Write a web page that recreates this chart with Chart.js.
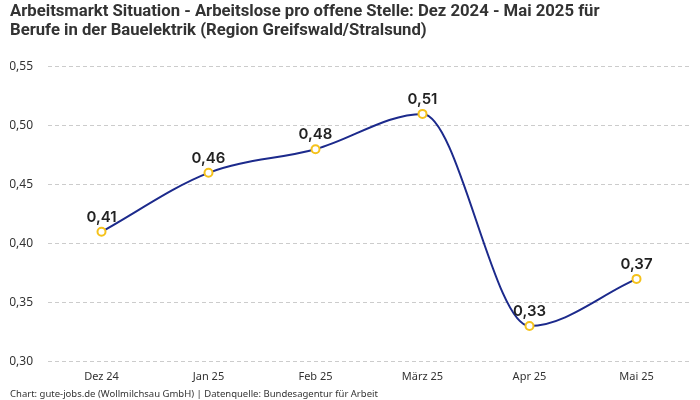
<!DOCTYPE html>
<html>
<head>
<meta charset="utf-8">
<script src="https://cdn.jsdelivr.net/npm/chart.js@4"></script>
<style>
  body { margin: 0; background: #fff; }
  #wrap { width: 700px; height: 400px; }
</style>
</head>
<body>
<div id="wrap"><canvas id="chart"></canvas></div>
<script>
// === Data ===
const months = ["Dez 24", "Jan 25", "Feb 25", "März 25", "Apr 25", "Mai 25"];
const ratio = [0.41, 0.46, 0.48, 0.51, 0.33, 0.37];
const yTicks = [0.30, 0.35, 0.40, 0.45, 0.50, 0.55];

const fmt = (v) => v.toFixed(2).replace(".", ",");

// === Value labels above points ===
const valueLabels = {
  id: "valueLabels",
  afterDatasetsDraw(chart) {
    const ctx = chart.ctx;
    const meta = chart.getDatasetMeta(0);
    ctx.save();
    ctx.font = "600 15px Inter, sans-serif";
    ctx.fillStyle = "#222";
    ctx.textAlign = "center";
    ctx.textBaseline = "alphabetic";
    meta.data.forEach((pt, i) => {
      ctx.fillText(fmt(ratio[i]), pt.x, pt.y - 10);
    });
    ctx.restore();
  },
};

new Chart(document.getElementById("chart"), {
  type: "line",
  data: {
    labels: months,
    datasets: [
      {
        data: ratio,
        borderColor: "#1c2a8c",
        borderWidth: 2,
        cubicInterpolationMode: "monotone",
        pointRadius: 4,
        pointBorderWidth: 2,
        pointBackgroundColor: "#fff",
        pointBorderColor: "#f5c21b",
      },
    ],
  },
  options: {
    responsive: true,
    maintainAspectRatio: false,
    animation: false,
    layout: { padding: { left: 10, right: 10, top: 0, bottom: 0 } },
    plugins: {
      legend: { display: false },
      tooltip: { enabled: false },
      title: {
        display: true,
        align: "start",
        text: [
          "Arbeitsmarkt Situation - Arbeitslose pro offene Stelle: Dez 2024 - Mai 2025 für",
          "Berufe in der Bauelektrik (Region Greifswald/Stralsund)",
        ],
        color: "#333",
        font: { family: "Roboto, sans-serif", size: 16.7, weight: "bold", lineHeight: 1.1 },
        padding: { top: 3, bottom: 27 },
      },
      subtitle: {
        display: true,
        position: "bottom",
        align: "start",
        text: "Chart: gute-jobs.de (Wollmilchsau GmbH) | Datenquelle: Bundesagentur für Arbeit",
        color: "#333",
        font: { family: "'Noto Sans', sans-serif", size: 9.5 },
        padding: { top: 4, bottom: 0 },
      },
    },
    scales: {
      x: {
        offset: true,
        grid: { display: false },
        border: { display: false },
        ticks: { color: "#333", font: { family: "'Noto Sans', sans-serif", size: 11 }, padding: 1 },
        afterFit: (axis) => {
          axis.paddingLeft = 0;
          axis.paddingRight = 0;
        },
      },
      y: {
        min: 0.3,
        max: 0.55,
        afterBuildTicks: (axis) => {
          axis.ticks = yTicks.map((v) => ({ value: v }));
        },
        afterFit: (axis) => {
          axis.width = 38;
        },
        grid: { color: "#cccccc", drawTicks: false },
        border: { display: false, dash: [4, 3] },
        ticks: {
          color: "#333",
          font: { family: "'Noto Sans', sans-serif", size: 12 },
          padding: 15,
          callback: (v) => fmt(v),
        },
      },
    },
  },
  plugins: [valueLabels],
});
</script>
</body>
</html>
